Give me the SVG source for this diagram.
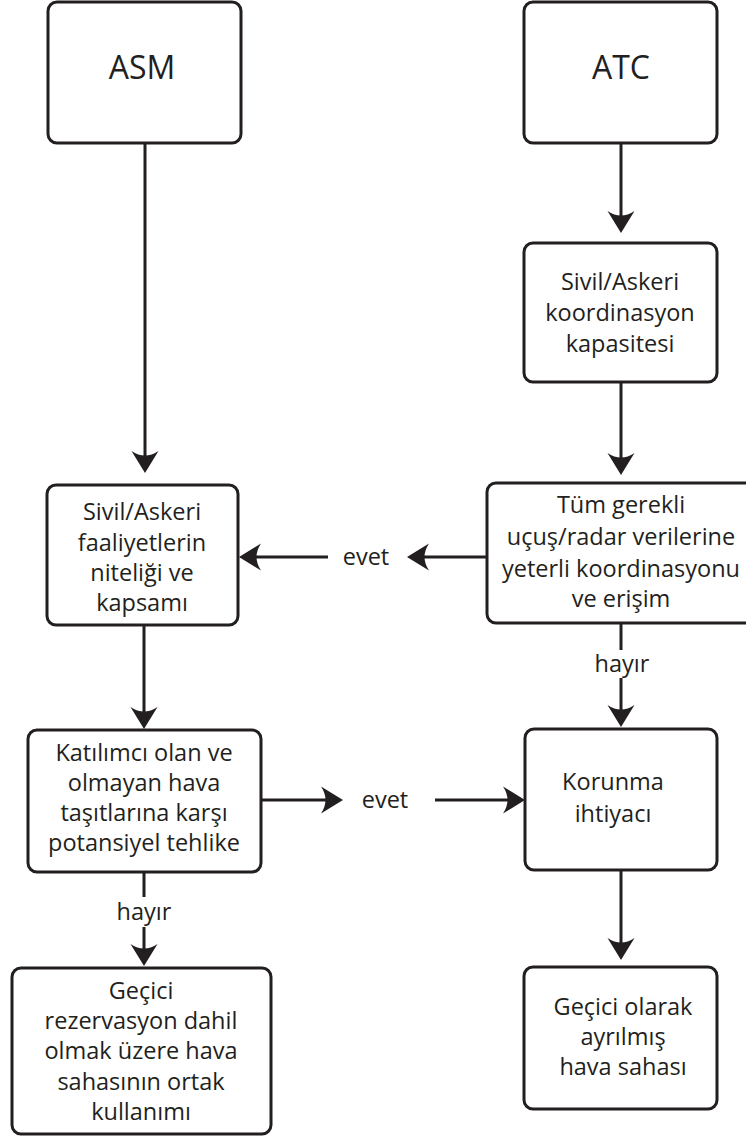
<svg xmlns="http://www.w3.org/2000/svg" width="746" height="1137" viewBox="0 0 746 1137">
  <style>
    .box { fill: #ffffff; stroke: #231f20; stroke-width: 3; }
    .ln { fill: none; stroke: #231f20; stroke-width: 3; }
    .t { font-family: "Open Sans", "Liberation Sans", sans-serif; font-size: 23.5px; fill: #231f20; text-anchor: middle; }
    .h { font-size: 32px; }
  </style>
  <defs>
    <marker id="ah" markerUnits="userSpaceOnUse" markerWidth="40" markerHeight="40" viewBox="-20 -20 40 40" refX="0" refY="0" orient="auto" overflow="visible">
      <path d="M10,0 L-12,-13.5 Q-3,0 -12,13.5 Z" fill="#231f20"/>
    </marker>
  </defs>
  <rect width="746" height="1137" fill="#ffffff"/>

  <g id="connectors">
    <path class="ln" d="M145,143 V463" marker-end="url(#ah)"/>
    <path class="ln" d="M621,143 V223" marker-end="url(#ah)"/>
    <path class="ln" d="M621,382 V465" marker-end="url(#ah)"/>
    <path class="ln" d="M487,557 H417" marker-end="url(#ah)"/>
    <path class="ln" d="M328,557 H249" marker-end="url(#ah)"/>
    <text class="t" x="366" y="565">evet</text>
    <path class="ln" d="M621,623 V650"/>
    <text class="t" x="622" y="672">hayır</text>
    <path class="ln" d="M621,678 V717" marker-end="url(#ah)"/>
    <path class="ln" d="M144,625 V719" marker-end="url(#ah)"/>
    <path class="ln" d="M261,800 H333" marker-end="url(#ah)"/>
    <text class="t" x="385" y="808">evet</text>
    <path class="ln" d="M435,800 H515" marker-end="url(#ah)"/>
    <path class="ln" d="M144,872 V897"/>
    <text class="t" x="144" y="920">hayır</text>
    <path class="ln" d="M144,927 V956" marker-end="url(#ah)"/>
    <path class="ln" d="M621,870 V950" marker-end="url(#ah)"/>
  </g>

  <g id="asm">
    <rect class="box" x="48" y="2" width="193" height="141" rx="9"/>
    <text class="t h" x="142" y="79">ASM</text>
  </g>
  <g id="atc">
    <rect class="box" x="524" y="2" width="193" height="141" rx="9"/>
    <text class="t h" x="621" y="79">ATC</text>
  </g>
  <g id="koordinasyon-kapasitesi">
    <rect class="box" x="524" y="243" width="193" height="139" rx="9"/>
    <text class="t" x="620" y="290">Sivil/Askeri</text>
    <text class="t" x="620" y="321">koordinasyon</text>
    <text class="t" x="620" y="352">kapasitesi</text>
  </g>
  <g id="veri-erisim">
    <rect class="box" x="487" y="483" width="270" height="140" rx="9"/>
    <text class="t" x="621" y="513">Tüm gerekli</text>
    <text class="t" x="621" y="545">uçuş/radar verilerine</text>
    <text class="t" x="621" y="577">yeterli koordinasyonu</text>
    <text class="t" x="621" y="607">ve erişim</text>
  </g>
  <g id="faaliyetler">
    <rect class="box" x="47" y="485" width="191" height="140" rx="9"/>
    <text class="t" x="142" y="520">Sivil/Askeri</text>
    <text class="t" x="142" y="551">faaliyetlerin</text>
    <text class="t" x="142" y="581">niteliği ve</text>
    <text class="t" x="142" y="611">kapsamı</text>
  </g>
  <g id="potansiyel-tehlike">
    <rect class="box" x="28" y="730" width="233" height="142" rx="9"/>
    <text class="t" x="144" y="761">Katılımcı olan ve</text>
    <text class="t" x="144" y="791">olmayan hava</text>
    <text class="t" x="144" y="821">taşıtlarına karşı</text>
    <text class="t" x="144" y="851">potansiyel tehlike</text>
  </g>
  <g id="korunma">
    <rect class="box" x="525" y="729" width="192" height="141" rx="9"/>
    <text class="t" x="613" y="790">Korunma</text>
    <text class="t" x="613" y="822">ihtiyacı</text>
  </g>
  <g id="ortak-kullanim">
    <rect class="box" x="12" y="968" width="259" height="166" rx="9"/>
    <text class="t" x="141" y="999">Geçici</text>
    <text class="t" x="141" y="1029">rezervasyon dahil</text>
    <text class="t" x="141" y="1059">olmak üzere hava</text>
    <text class="t" x="141" y="1090">sahasının ortak</text>
    <text class="t" x="141" y="1120">kullanımı</text>
  </g>
  <g id="ayrilmis-saha">
    <rect class="box" x="524" y="967" width="193" height="142" rx="9"/>
    <text class="t" x="623" y="1015">Geçici olarak</text>
    <text class="t" x="623" y="1045">ayrılmış</text>
    <text class="t" x="623" y="1075">hava sahası</text>
  </g>
</svg>
